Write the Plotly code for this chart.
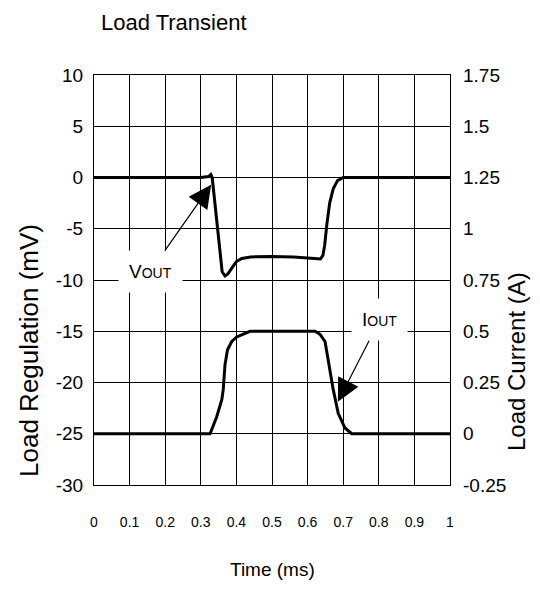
import plotly.graph_objects as go

# ---- data ----
t_vout = [0, 0.30, 0.322, 0.328, 0.332, 0.346, 0.360, 0.368, 0.376, 0.388, 0.400, 0.415,
          0.44, 0.50, 0.56, 0.62, 0.636, 0.643, 0.648, 0.654, 0.662, 0.672, 0.684, 0.70, 1.0]
vout_mv = [0, 0, 0.1, 0.3, 0, -4.8, -9.2, -9.6, -9.4, -8.8, -8.2, -7.9,
           -7.75, -7.7, -7.75, -7.9, -7.95, -7.6, -6.6, -4.6, -2.5, -1.1, -0.3, 0, 0]

t_iout = [0, 0.326, 0.345, 0.359, 0.363, 0.368, 0.375, 0.387, 0.401, 0.438,
          0.621, 0.635, 0.649, 0.658, 0.672, 0.686, 0.705, 0.724, 1.0]
iout_a = [0, 0, 0.084, 0.166, 0.215, 0.337, 0.41, 0.45, 0.472, 0.5,
          0.5, 0.485, 0.45, 0.36, 0.215, 0.1, 0.028, 0, 0]

x_ticks = [0, 0.1, 0.2, 0.3, 0.4, 0.5, 0.6, 0.7, 0.8, 0.9, 1]
x_ticktext = ["0", "0.1", "0.2", "0.3", "0.4", "0.5", "0.6", "0.7", "0.8", "0.9", "1"]
y_ticks = [10, 5, 0, -5, -10, -15, -20, -25, -30]
y_ticktext = ["10", "5", "0", "-5", "-10", "-15", "-20", "-25", "-30"]
y2_ticks = [1.75, 1.5, 1.25, 1, 0.75, 0.5, 0.25, 0, -0.25]
y2_ticktext = ["1.75", "1.5", "1.25", "1", "0.75", "0.5", "0.25", "0", "-0.25"]

FONT = "Liberation Sans, Arial, sans-serif"

fig = go.Figure()
fig.add_trace(go.Scatter(x=t_vout, y=vout_mv, mode="lines", name="VOUT",
                         line=dict(color="black", width=3), yaxis="y"))
fig.add_trace(go.Scatter(x=t_iout, y=iout_a, mode="lines", name="IOUT",
                         line=dict(color="black", width=3), yaxis="y2"))

fig.update_layout(
    width=532, height=604,
    margin=dict(l=86, r=90, t=67, b=127),
    paper_bgcolor="white", plot_bgcolor="white",
    showlegend=False,
    font=dict(family=FONT, color="black"),
    xaxis=dict(range=[0, 1], tickvals=x_ticks, ticktext=x_ticktext,
               showgrid=True, gridcolor="black", gridwidth=1,
               showline=True, linecolor="black", linewidth=1, mirror=True,
               zeroline=False, ticks="", tickfont=dict(size=14),
               ticklabelstandoff=24),
    yaxis=dict(range=[-30, 10], tickvals=y_ticks, ticktext=y_ticktext,
               showgrid=True, gridcolor="black", gridwidth=1,
               showline=True, linecolor="black", linewidth=1, mirror=True,
               zeroline=False, ticks="", tickfont=dict(size=19),
               ticklabelstandoff=6),
    yaxis2=dict(range=[-0.25, 1.75], tickvals=y2_ticks, ticktext=y2_ticktext,
                overlaying="y", side="right", showgrid=False,
                zeroline=False, ticks="", tickfont=dict(size=19),
                ticklabelstandoff=12),
)

annotations = [
    dict(text="Load Transient", xref="paper", yref="paper", x=0.014, y=1.128,
         xanchor="left", yanchor="middle", showarrow=False, font=dict(size=22)),
    dict(text="Time (ms)", xref="paper", yref="paper", x=0.5, y=-0.207,
         xanchor="center", yanchor="middle", showarrow=False, font=dict(size=19)),
    dict(text="Load Regulation (mV)", xref="paper", yref="paper", x=-0.183, y=0.329,
         xanchor="center", yanchor="middle", textangle=-90, showarrow=False,
         font=dict(size=26)),
    dict(text="Load Current (A)", xref="paper", yref="paper", x=1.185, y=0.302,
         xanchor="center", yanchor="middle", textangle=-90, showarrow=False,
         font=dict(size=24)),
    dict(text="V<span style='font-size:14px'>OUT</span>", xref="x", yref="y",
         x=0.329, y=-0.7, ax=-61, ay=87, showarrow=True, arrowhead=2,
         arrowsize=3.8, arrowwidth=1.2, arrowcolor="black", bgcolor="white",
         borderpad=10, font=dict(size=19)),
    dict(text="I<span style='font-size:14px'>OUT</span>", xref="x", yref="y2",
         x=0.685, y=0.156, ax=42, ay=-82, showarrow=True, arrowhead=2,
         arrowsize=3.8, arrowwidth=1.2, arrowcolor="black", bgcolor="white",
         borderpad=10, font=dict(size=19)),
]
fig.update_layout(annotations=annotations)

fig.write_html("out.html")
